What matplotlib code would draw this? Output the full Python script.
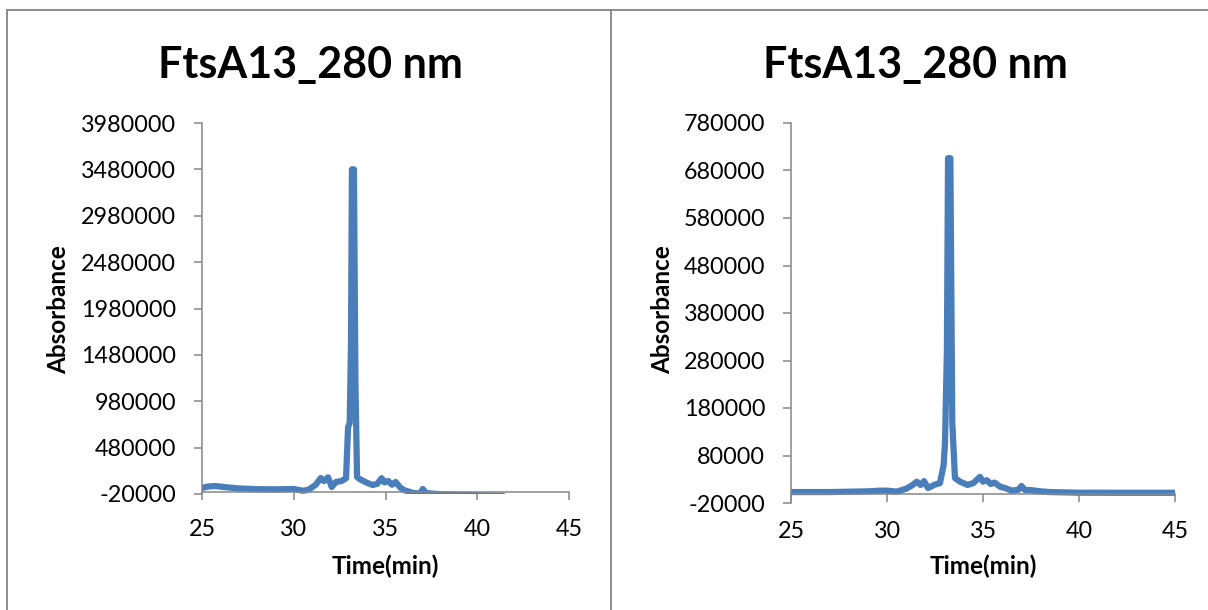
import numpy as np
import matplotlib
matplotlib.use('Agg')
import matplotlib.pyplot as plt
from matplotlib.lines import Line2D

plt.rcParams['font.family'] = ['Lato', 'DejaVu Sans']

# ---- data ----
title_txt = 'FtsA13_280 nm'
xlab = 'Time(min)'
ylab = 'Absorbance'

timeA = [25.0, 25.3, 25.7, 26.2, 27.0, 28.0, 29.0, 29.5, 30.0, 30.5, 30.8, 31.2,
         31.47, 31.65, 31.87, 32.07, 32.3, 32.6, 32.85, 32.96, 33.05, 33.12, 33.17,
         33.28, 33.36, 33.45, 33.6, 33.8, 34.0, 34.3, 34.55, 34.79, 34.95, 35.15,
         35.35, 35.55, 35.8, 36.0, 36.5, 36.9, 37.03, 37.2, 37.5, 38.0, 39.0, 40.0, 41.4]
absA = [45000, 60000, 66000, 55000, 40000, 32000, 30000, 32000, 34000, 15000, 25000, 80000,
        152000, 120000, 160000, 55000, 110000, 120000, 150000, 700000, 745000, 1600000, 3480000,
        3480000, 1200000, 163000, 140000, 120000, 100000, 77000, 90000, 150000, 105000, 120000,
        80000, 110000, 50000, 23000, -9000, -15000, 34000, -8000, -15000, -22000, -30000, -35000, -40000]

timeB = [25.0, 27.0, 29.0, 29.6, 30.0, 30.5, 31.0, 31.3, 31.55, 31.75, 31.93, 32.14,
         32.45, 32.76, 32.95, 33.02, 33.12, 33.18, 33.3, 33.4, 33.54, 33.8, 34.2, 34.5,
         34.84, 35.0, 35.2, 35.4, 35.6, 35.9, 36.15, 36.5, 36.85, 37.0, 37.2, 37.45,
         38.0, 38.5, 40.0, 42.0, 45.0]
absB = [3000, 3000, 4500, 5900, 6000, 4000, 10000, 17000, 24800, 18000, 26000, 11500,
        18000, 22000, 60000, 106000, 300000, 706000, 706000, 150000, 32600, 25000, 18000, 22000,
        35000, 25000, 28000, 20000, 23000, 14000, 11600, 6000, 8000, 15800, 7000, 7400,
        4500, 3000, 1700, 1500, 1500]

yticksA = np.arange(-20000, 3980001, 500000)
yticksB = np.arange(-20000, 780001, 100000)
xticks = [25, 30, 35, 40, 45]

W, H = 1208, 610
fig = plt.figure(figsize=(W / 100, H / 100), dpi=100)
fig.patch.set_facecolor('white')

gray = '#868686'
blue = '#4A7EBB'

#...!...!..................
def panel(box, t, v, yt, cx, ylab_x):
    x0, x1, ytop, ybot = box
    ax = fig.add_axes([x0 / W, 1 - ybot / H, (x1 - x0) / W, (ybot - ytop) / H])
    ax.plot(t, v, color=blue, lw=4.5, solid_joinstyle='round', solid_capstyle='round')
    ax.set_xlim(25, 45)
    ax.set_ylim(yt[0], yt[-1])
    ax.set_xticks(xticks)
    ax.set_yticks(yt)
    ax.set_yticklabels(['%d' % y for y in yt])
    for s in ['top', 'right']:
        ax.spines[s].set_visible(False)
    ax.spines['bottom'].set_position(('data', 0))
    for s in ['left', 'bottom']:
        ax.spines[s].set_color(gray)
        ax.spines[s].set_linewidth(1.1)
    ax.tick_params(axis='both', direction='out', length=5.5, width=1.1, color=gray,
                   labelsize=16.8, labelcolor='black')
    ax.tick_params(axis='x', pad=14)
    ax.tick_params(axis='y', pad=13)
    ax.patch.set_alpha(0)
    fig.text(cx / W, 1 - 65 / H, title_txt, ha='center', va='center',
             fontsize=31, fontweight='bold')
    fig.text(ylab_x / W, 1 - 310 / H, ylab, ha='center', va='center', rotation=90,
             fontsize=17.5, fontweight='bold')
    fig.text((x0 + x1) / 2 / W, 1 - 566 / H, xlab, ha='center', va='center',
             fontsize=17.5, fontweight='bold')
    return ax

panel((202, 569, 123, 494), timeA, absA, yticksA, 310, 59)
panel((791, 1175, 123, 503), timeB, absB, yticksB, 915, 663)

# chart frames
lc = '#8c8c8c'
fig.add_artist(Line2D([7 / W, 1], [1 - 10 / H, 1 - 10 / H], color=lc, lw=1.4))
fig.add_artist(Line2D([7 / W, 7 / W], [0, 1 - 10 / H], color=lc, lw=1.4))
fig.add_artist(Line2D([611 / W, 611 / W], [0, 1 - 10 / H], color=lc, lw=1.4))

fig.savefig('out.png', dpi=100)
